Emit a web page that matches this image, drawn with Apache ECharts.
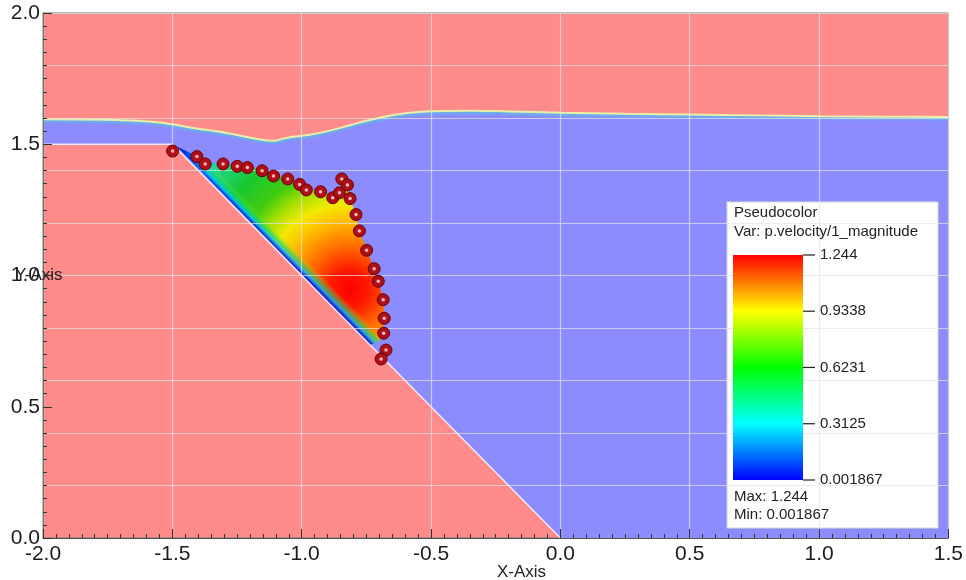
<!DOCTYPE html>
<html>
<head>
<meta charset="utf-8">
<script src="https://cdn.jsdelivr.net/npm/echarts@6/dist/echarts.min.js"></script>
<style>
  html, body { margin: 0; padding: 0; background: #fff; }
  #chart { width: 966px; height: 580px; }
</style>
</head>
<body>
<div id="chart"></div>
<script>
// free surface (air / water interface)
const surfaceX = [-2.0, -1.75, -1.55, -1.42, -1.29, -1.17, -1.11, -1.06, -0.97, -0.9, -0.83, -0.78, -0.69, -0.6, -0.5, -0.35, -0.2, 0.0, 0.25, 0.5, 0.75, 1.0, 1.25, 1.5];
const surfaceY = [1.595, 1.593, 1.583, 1.562, 1.543, 1.52, 1.513, 1.524, 1.536, 1.55, 1.568, 1.582, 1.603, 1.618, 1.626, 1.628, 1.625, 1.62, 1.616, 1.613, 1.61, 1.607, 1.605, 1.604];

// bed: shelf + slope + floor
const bedX = [-2.0, -1.5, 0.0, 1.5];
const bedY = [1.5, 1.5, 0.0, 0.0];

// outline of the sliding mass (velocity field)
const patchX = [-1.48, -1.405, -1.373, -1.304, -1.249, -1.21, -1.153, -1.109, -1.054, -1.008, -0.982, -0.927, -0.88, -0.858, -0.845, -0.823, -0.813, -0.79, -0.777, -0.749, -0.72, -0.704, -0.685, -0.681, -0.686, -0.705, -0.735];
const patchY = [1.49, 1.455, 1.428, 1.428, 1.419, 1.414, 1.402, 1.382, 1.371, 1.35, 1.329, 1.322, 1.299, 1.318, 1.364, 1.343, 1.293, 1.232, 1.17, 1.096, 1.026, 0.978, 0.908, 0.837, 0.78, 0.748, 0.735];

// tracked particles
const dotX = [-1.499, -1.405, -1.373, -1.304, -1.249, -1.21, -1.153, -1.109, -1.054, -1.008, -0.982, -0.927, -0.88, -0.854, -0.845, -0.823, -0.813, -0.79, -0.777, -0.749, -0.72, -0.704, -0.685, -0.681, -0.683, -0.674, -0.693];
const dotY = [1.474, 1.453, 1.425, 1.425, 1.416, 1.411, 1.399, 1.379, 1.368, 1.347, 1.326, 1.319, 1.296, 1.315, 1.368, 1.345, 1.293, 1.232, 1.17, 1.096, 1.026, 0.978, 0.908, 0.837, 0.78, 0.716, 0.682];

// colour bar
const barMin = 0.001867;
const barMax = 1.244;
const barTicks = [0.001867, 0.3125, 0.6231, 0.9338, 1.244];
const barLabels = ['0.001867', '0.3125', '0.6231', '0.9338', '1.244'];

const FONT = 'Liberation Sans, Arial, sans-serif';
const gridColor = 'rgba(228,228,228,0.7)';

const toPts = (xs, ys) => xs.map((x, i) => [x, ys[i]]);

// water region = surface, then the bed walked backwards
const waterX = surfaceX.concat(bedX.slice().reverse());
const waterY = surfaceY.concat(bedY.slice().reverse());

// draw a whole polygon once, from the first item
function polygon(xs, ys, fill) {
  return function (params, api) {
    if (params.dataIndex !== 0) return;
    const pts = xs.map((x, i) => api.coord([x, ys[i]]));
    return {
      type: 'polygon',
      shape: { points: pts },
      style: { fill: typeof fill === 'function' ? fill(api) : fill }
    };
  };
}

// fast core, fading outward
const corePt = [-0.815, 0.95];
const coreFill = (api) => {
  const c = api.coord(corePt);
  return new echarts.graphic.RadialGradient(c[0], c[1], 230, [
    { offset: 0, color: '#ff0000' },
    { offset: 0.08, color: '#ff1800' },
    { offset: 0.19, color: '#ff7000' },
    { offset: 0.3, color: '#ffc000' },
    { offset: 0.37, color: '#f2ea00' },
    { offset: 0.44, color: '#a8e000' },
    { offset: 0.52, color: '#40cc10' },
    { offset: 0.64, color: '#18c830' },
    { offset: 0.8, color: '#20d8a0' },
    { offset: 1, color: '#00c8ff' }
  ], true);
};

// slow layer on the slope wall
const wallFill = (api) => {
  const a = api.coord([-1.1, 1.1]);
  const b = api.coord([-0.5, 0.5]);
  const dx = b[0] - a[0], dy = b[1] - a[1], len = Math.hypot(dx, dy);
  const nx = dy / len, ny = -dx / len;
  return new echarts.graphic.LinearGradient(a[0], a[1], a[0] + nx * 14, a[1] + ny * 14, [
    { offset: 0, color: 'rgba(0,0,160,1)' },
    { offset: 0.15, color: 'rgba(0,50,255,0.9)' },
    { offset: 0.35, color: 'rgba(0,190,255,0.8)' },
    { offset: 0.6, color: 'rgba(0,220,120,0.55)' },
    { offset: 1, color: 'rgba(200,230,0,0)' }
  ], true);
};

// dead-water wedge at the top of the slope
const apexFill = (api) => {
  const c = api.coord([-1.49, 1.49]);
  return new echarts.graphic.RadialGradient(c[0], c[1], 48, [
    { offset: 0, color: 'rgba(0,0,190,1)' },
    { offset: 0.45, color: 'rgba(0,70,255,0.75)' },
    { offset: 1, color: 'rgba(0,200,255,0)' }
  ], true);
};

const chart = echarts.init(document.getElementById('chart'));

const option = {
  animation: false,
  grid: [
    { left: 43, right: 15, top: 13, bottom: 42, show: true, backgroundColor: '#ff8b8b', borderColor: '#777', borderWidth: 1 },
    { left: 733, top: 255, width: 70, height: 225 }
  ],
  xAxis: [
    {
      type: 'value', min: -2, max: 1.5, interval: 0.5, z: 5,
      axisLine: { onZero: false, lineStyle: { color: '#555' } },
      axisTick: { inside: true, length: 9, lineStyle: { color: '#333' } },
      minorTick: { show: true, splitNumber: 10, length: 4, lineStyle: { color: '#333' } },
      splitLine: { show: true, lineStyle: { color: gridColor, width: 1.2 } },
      axisLabel: { fontSize: 21, fontFamily: FONT, color: '#1c1c1c', margin: 6, formatter: (v) => v.toFixed(1) }
    },
    { gridIndex: 1, type: 'value', min: 0, max: 1, show: false }
  ],
  yAxis: [
    {
      type: 'value', min: 0, max: 2, interval: 0.5, z: 5,
      axisLine: { onZero: false, lineStyle: { color: '#777' } },
      axisTick: { inside: true, length: 9, lineStyle: { color: '#333' } },
      minorTick: { show: true, splitNumber: 10, length: 4, lineStyle: { color: '#333' } },
      splitLine: { show: false },
      axisLabel: { fontSize: 21, fontFamily: FONT, color: '#1c1c1c', margin: 3, formatter: (v) => v.toFixed(1) }
    },
    {
      type: 'value', min: 0, max: 2, interval: 0.2, z: 5,
      axisLine: { show: false }, axisTick: { show: false }, axisLabel: { show: false },
      splitLine: { show: true, lineStyle: { color: gridColor, width: 1.2 } }
    },
    {
      gridIndex: 1, type: 'value', min: barMin, max: barMax, position: 'right', z: 8,
      axisLine: { show: false },
      axisTick: { show: false },
      splitLine: { show: false },
      axisLabel: {
        customValues: barTicks, fontSize: 15, fontFamily: FONT, color: '#222', margin: 17,
        formatter: (v) => {
          let k = 0;
          barTicks.forEach((t, i) => { if (Math.abs(t - v) < Math.abs(barTicks[k] - v)) k = i; });
          return barLabels[k];
        }
      }
    }
  ],
  graphic: [
    { type: 'rect', z: 4, shape: { x: 727, y: 202, width: 211, height: 326 }, style: { fill: '#ffffff', stroke: '#d6d6d6' } },
    { type: 'text', z: 10, x: 734, y: 213, style: { text: 'Pseudocolor', font: '15px ' + FONT, fill: '#222', verticalAlign: 'middle' } },
    { type: 'text', z: 10, x: 734, y: 232, style: { text: 'Var: p.velocity/1_magnitude', font: '15px ' + FONT, fill: '#222', verticalAlign: 'middle' } },
    { type: 'text', z: 10, x: 734, y: 497, style: { text: 'Max: 1.244', font: '15px ' + FONT, fill: '#222', verticalAlign: 'middle' } },
    { type: 'text', z: 10, x: 734, y: 515, style: { text: 'Min: 0.001867', font: '15px ' + FONT, fill: '#222', verticalAlign: 'middle' } },
    { type: 'text', z: 10, x: 497, y: 572, style: { text: 'X-Axis', font: '17px ' + FONT, fill: '#222', verticalAlign: 'middle' } },
    { type: 'text', z: 10, x: 15, y: 275, style: { text: 'Y-Axis', font: '17px ' + FONT, fill: '#222', verticalAlign: 'middle' } }
  ],
  series: [
    {
      name: 'water', type: 'custom', z: 1, clip: true, silent: true,
      data: toPts(waterX, waterY),
      renderItem: polygon(waterX, waterY, '#8c8cff')
    },
    {
      name: 'velocity', type: 'custom', z: 2, clip: true, silent: true,
      data: toPts(patchX, patchY),
      renderItem: polygon(patchX, patchY, coreFill)
    },
    {
      name: 'wall', type: 'custom', z: 2, clip: true, silent: true,
      data: toPts(patchX, patchY),
      renderItem: polygon(patchX, patchY, wallFill)
    },
    {
      name: 'apex', type: 'custom', z: 2, clip: true, silent: true,
      data: toPts(patchX, patchY),
      renderItem: polygon(patchX, patchY, apexFill)
    },
    {
      name: 'surface', type: 'line', z: 3, smooth: 0.4, showSymbol: false, silent: true,
      data: toPts(surfaceX, surfaceY),
      lineStyle: { color: '#e8f0a8', width: 2, shadowColor: 'rgba(80,200,220,0.8)', shadowOffsetY: 2, shadowBlur: 2 }
    },
    {
      name: 'bed', type: 'line', z: 3, showSymbol: false, silent: true,
      data: toPts(bedX.slice(0, 3), bedY.slice(0, 3)),
      lineStyle: { color: 'rgba(245,240,250,0.9)', width: 1.5 }
    },
    {
      name: 'particles', type: 'scatter', z: 7, symbolSize: 12,
      data: toPts(dotX, dotY),
      itemStyle: { color: '#ad1018', borderColor: '#6a0000', borderWidth: 1, opacity: 1 }
    },
    {
      name: 'particle centres', type: 'scatter', z: 8, symbolSize: 3.5, silent: true,
      data: toPts(dotX, dotY),
      itemStyle: { color: '#ffb8b8', opacity: 1 }
    },
    {
      name: 'colour bar', type: 'custom', z: 6, xAxisIndex: 1, yAxisIndex: 2, silent: true,
      data: [[0, barMin], [1, barMax]],
      renderItem: (params, api) => {
        if (params.dataIndex !== 0) return;
        const p0 = api.coord([0, barMax]);
        const p1 = api.coord([1, barMin]);
        const ticks = barTicks.map((t) => {
          const p = api.coord([1, t]);
          return { type: 'line', shape: { x1: p[0], y1: p[1], x2: p[0] + 12, y2: p[1] }, style: { stroke: '#222', lineWidth: 1.2 } };
        });
        return {
          type: 'group',
          children: [{
            type: 'rect',
            shape: { x: p0[0], y: p0[1], width: p1[0] - p0[0], height: p1[1] - p0[1] },
            style: {
              fill: new echarts.graphic.LinearGradient(0, 0, 0, 1, [
                { offset: 0, color: '#ff0000' },
                { offset: 0.25, color: '#ffff00' },
                { offset: 0.5, color: '#00ff00' },
                { offset: 0.75, color: '#00ffff' },
                { offset: 1, color: '#0000ff' }
              ])
            }
          }].concat(ticks)
        };
      }
    }
  ]
};

chart.setOption(option);
</script>
</body>
</html>
